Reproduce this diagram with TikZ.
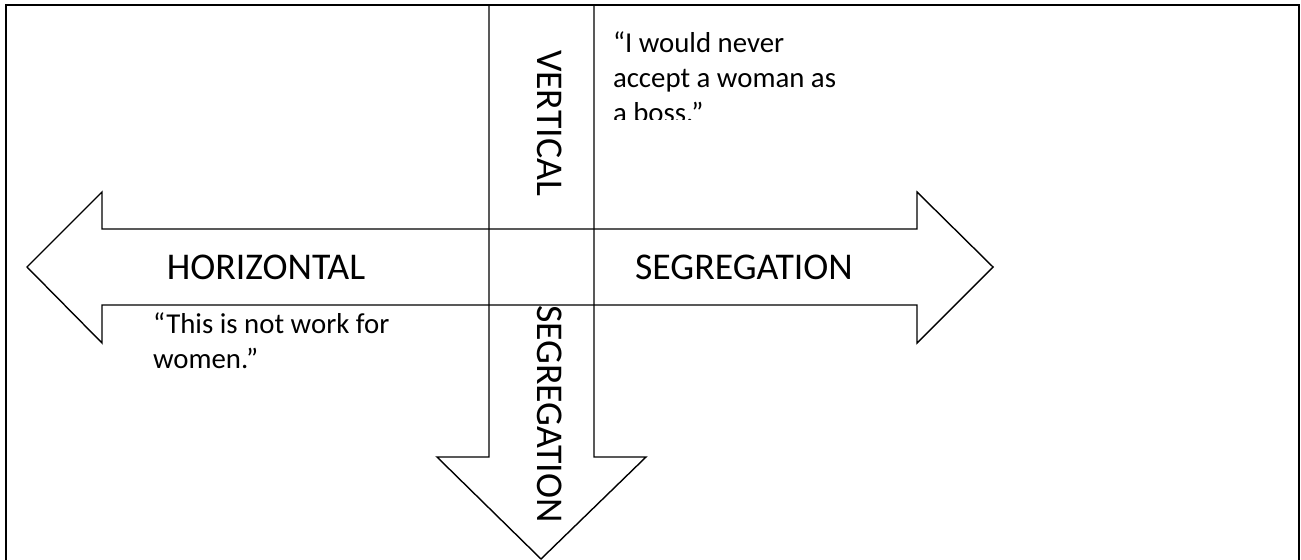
\documentclass[tikz,border=0pt]{standalone}
\usepackage{fontspec}
\setmainfont{Carlito}
\usetikzlibrary{positioning}

\begin{document}
\begin{tikzpicture}[
    x=0.02cm, y=-0.02cm,
    every node/.style={inner sep=0pt, outer sep=0pt},
    bigLabel/.style={font=\fontsize{21.5}{26}\selectfont},
    quoteText/.style={font=\fontsize{16.4}{19.8}\selectfont, align=left, anchor=north west},
    arrowShape/.style={draw=black, line width=0.8pt, line join=miter},
    frameLine/.style={draw=black, line width=1.2pt}
]
\useasboundingbox (0,0) rectangle (1301,560);

% Frame
\draw [frameLine] (6,570) -- (6,5) -- (1299,5) -- (1299,570);

% Shapes
\draw [arrowShape] (489,5) -- (489,457) -- (437,457) -- (541,559) -- (646,457) -- (594,457) -- (594,5);
\draw [arrowShape] (102,229) -- (917,229) -- (917,192) -- (993,267) -- (917,343) -- (917,305)
    -- (102,305) -- (102,343) -- (27,267) -- (102,192) -- cycle;

% Labels
\node (horiz) [bigLabel] at (266,267) {HORIZONTAL};
\node (segH) [bigLabel] at (744,267) {SEGREGATION};
\node (vert) [bigLabel, rotate=-90] at (550,123) {VERTICAL};
\node (segV) [bigLabel, rotate=-90] at (550,414) {SEGREGATION};

% Quotes
\begin{scope}
\clip (600,5) rectangle (900,120);
\node (bossQuote) [quoteText] at (613,32) {“I would never\\accept a woman as\\a boss.”};
\end{scope}
\node (workQuote) [quoteText] at (153,313) {“This is not work for\\women.”};

\end{tikzpicture}
\end{document}
